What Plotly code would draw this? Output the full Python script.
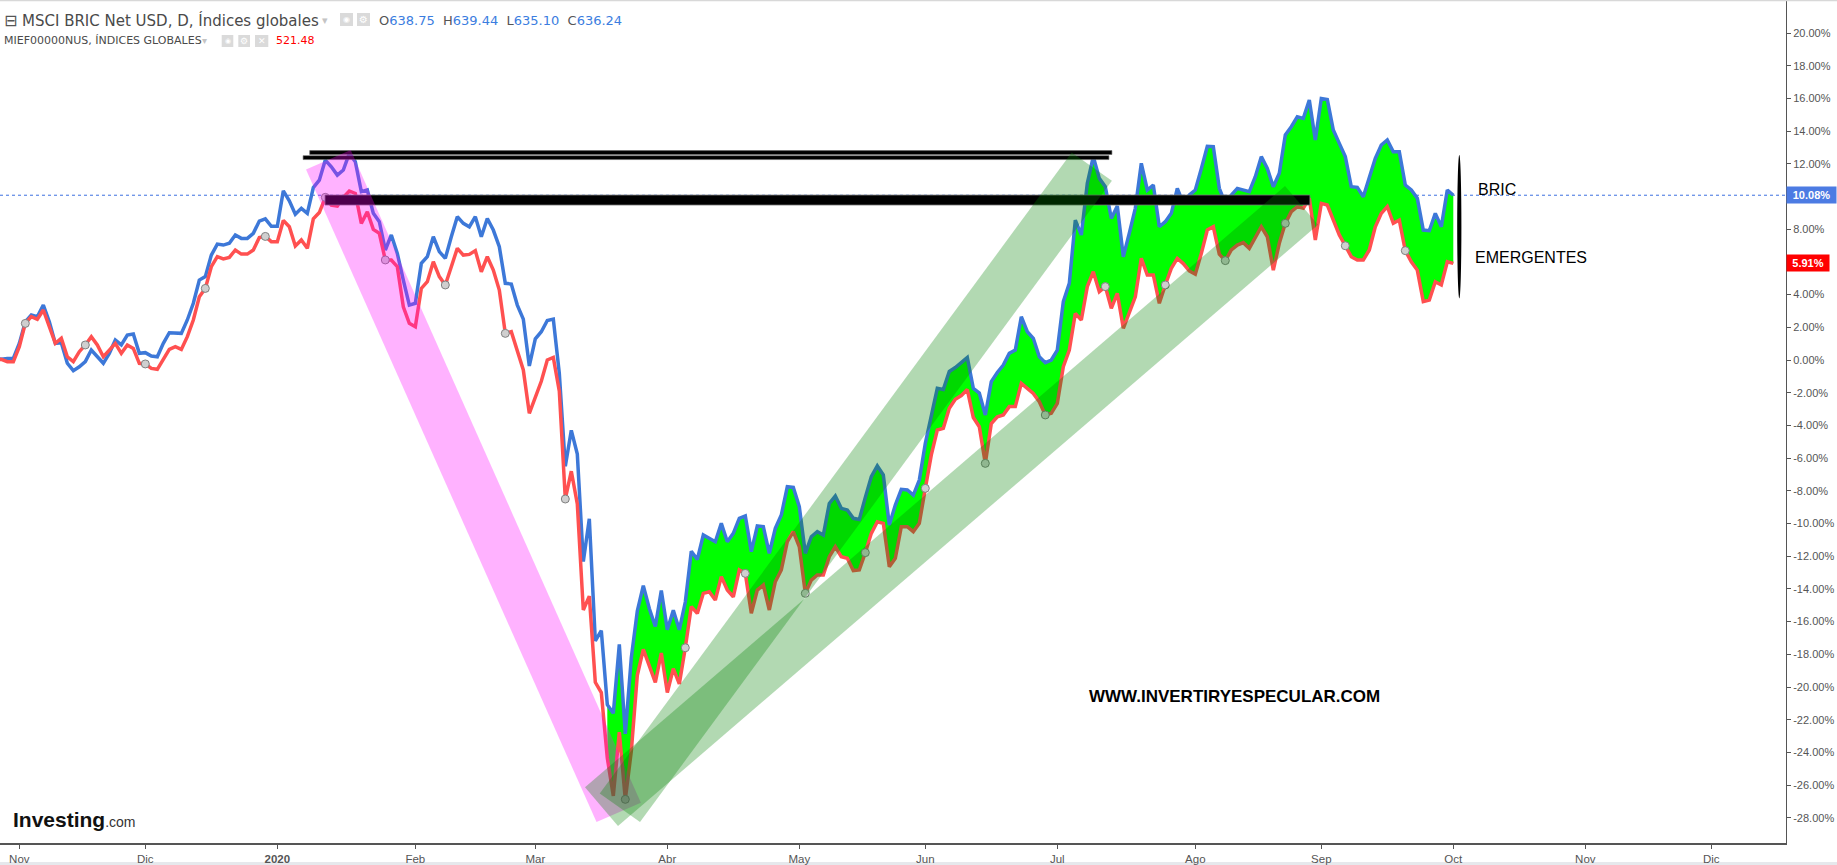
import numpy as np
import pandas as pd
import plotly.graph_objects as go

# ---------------- data ----------------
dates = pd.bdate_range("2019-10-28", "2020-10-01")  # trading days shown (weekdays)

bric = [
    0.10, 0.05, 0.10, 0.10,
    1.02, 2.34, 2.75, 2.65, 3.36, 2.34, 1.02, 1.06, -0.20, -0.65,
    -0.41, -0.10, 0.61, 0.20, -0.20, 0.41, 1.22, 0.92, 1.53, 1.59,
    0.41, 0.45, 0.24, 0.20, 1.02, 1.67, 1.67, 1.63, 2.45, 3.47,
    4.89, 5.10, 6.42, 7.09, 7.03, 7.14, 7.65, 7.44, 7.44, 7.75,
    8.50, 8.63, 8.18, 8.18, 10.35, 9.74, 8.92, 9.28, 8.97, 10.55,
    11.00, 12.23, 11.82, 11.31, 11.62, 12.64, 12.13, 10.30, 10.40, 8.97,
    8.46, 6.73, 7.65, 6.52, 4.89, 3.36, 3.47, 5.91, 6.32, 7.54,
    6.63, 6.22, 7.54, 8.77, 8.36, 8.15, 8.77, 7.54, 8.66, 7.95,
    6.93, 4.69, 4.65, 3.36, 2.50, -0.36, 1.30, 1.73, 2.42, 2.50,
    -0.82, -6.50, -4.30, -5.75, -12.33, -9.71, -17.18, -16.55, -21.08, -21.61,
    -17.39, -22.87, -18.20, -15.35, -13.80, -15.20, -16.30, -14.10, -16.50, -15.30,
    -16.50, -14.80, -11.70, -12.20, -10.70, -10.91, -11.11, -9.99, -11.11, -10.60,
    -9.68, -9.54, -11.72, -10.15, -10.19, -11.82, -10.30, -9.48, -7.75, -7.79,
    -8.97, -11.82, -10.81, -10.50, -10.70, -8.77, -8.32, -9.07, -9.17, -9.68,
    -9.75, -8.40, -7.14, -6.48, -7.03, -10.09, -8.87, -7.91, -7.95, -8.26,
    -7.34, -5.10, -3.50, -1.73, -1.80, -0.70, -0.46, -0.18, 0.15, -1.73,
    -2.02, -3.36, -1.32, -0.76, -0.31, 0.41, 0.61, 2.65, 1.73, 1.33,
    0.20, -0.16, 0.00, 0.61, 3.57, 4.69, 8.56, 7.65, 10.81, 12.44,
    11.11, 10.60, 8.66, 9.42, 6.32, 7.75, 9.28, 12.03, 10.40, 10.70,
    8.15, 8.46, 8.97, 10.50, 9.58, 10.09, 10.40, 11.70, 13.07, 13.05,
    10.50, 9.58, 10.09, 10.50, 10.40, 10.30, 11.21, 12.44, 11.72, 10.60,
    11.42, 13.76, 14.27, 14.88, 14.78, 15.90, 13.46, 16.00, 15.94, 14.07,
    13.25, 12.44, 10.60, 10.56, 9.99, 11.21, 12.33, 13.15, 13.46, 12.74,
    12.74, 10.70, 10.40, 9.89, 7.95, 7.91, 8.97, 8.15, 10.40, 10.08,
]

emergentes = [
    0.00, 0.04, -0.10, -0.10,
    0.82, 2.24, 2.65, 2.49, 3.06, 2.04, 1.02, 1.33, 0.20, -0.10,
    0.51, 0.92, 1.43, 0.92, 0.20, 0.61, 1.02, 0.41, 0.92, 0.71,
    -0.20, -0.24, -0.51, -0.57, 0.00, 0.65, 0.82, 0.65, 1.43, 2.45,
    3.87, 4.38, 5.71, 6.32, 6.18, 6.28, 6.73, 6.48, 6.48, 6.73,
    7.49, 7.56, 7.24, 7.24, 8.54, 8.15, 6.97, 7.34, 6.83, 8.63,
    9.02, 9.95, 9.48, 9.42, 9.95, 10.34, 10.19, 8.36, 9.07, 7.99,
    7.75, 6.12, 6.12, 5.71, 3.26, 2.24, 2.04, 4.38, 4.79, 6.01,
    5.10, 4.59, 5.71, 6.83, 6.42, 6.46, 6.69, 5.40, 6.32, 5.50,
    4.28, 1.63, 1.73, 0.61, -0.61, -3.26, -2.20, -1.30, 0.00, 0.16,
    -1.90, -8.50, -6.80, -8.80, -15.29, -14.44, -19.71, -20.34, -24.34, -26.66,
    -22.76, -26.87, -23.92, -19.28, -17.70, -18.65, -19.71, -17.92, -20.34, -18.87,
    -19.81, -17.60, -15.08, -15.50, -14.27, -14.17, -14.68, -13.25, -14.07, -14.48,
    -12.84, -13.05, -15.49, -14.07, -13.76, -15.29, -13.56, -12.84, -11.11, -10.50,
    -11.42, -14.27, -13.46, -13.15, -13.15, -12.03, -11.42, -12.03, -12.13, -12.88,
    -12.84, -11.78, -10.60, -9.89, -9.99, -12.64, -12.13, -10.19, -10.19, -10.50,
    -9.99, -7.85, -5.80, -4.28, -4.18, -2.95, -2.40, -2.17, -1.81, -3.52,
    -4.08, -6.32, -3.88, -3.47, -3.36, -2.85, -2.85, -1.43, -1.73, -2.04,
    -2.55, -3.36, -3.26, -2.65, -0.41, 0.61, 2.85, 2.45, 4.49, 5.40,
    4.18, 4.49, 3.16, 4.08, 1.94, 2.85, 3.87, 6.22, 5.20, 5.20,
    3.47, 4.59, 5.61, 6.22, 5.90, 5.45, 5.25, 6.52, 7.95, 8.15,
    6.47, 6.08, 6.73, 7.03, 7.18, 6.83, 7.54, 8.15, 7.54, 5.50,
    7.14, 8.36, 9.07, 9.38, 9.28, 9.89, 7.34, 9.58, 9.48, 8.56,
    7.65, 6.99, 6.32, 6.12, 6.12, 6.73, 8.15, 8.97, 9.38, 8.36,
    8.56, 6.69, 6.01, 5.50, 3.57, 3.67, 4.79, 4.59, 6.01, 5.91,
]

month_dates = ["2019-11-01", "2019-12-02", "2020-01-01", "2020-02-03", "2020-03-02",
               "2020-04-01", "2020-05-01", "2020-06-01", "2020-07-01", "2020-08-03",
               "2020-09-01", "2020-10-01", "2020-11-02", "2020-12-01"]
month_labels = ["Nov", "Dic", "<b>2020</b>", "Feb", "Mar", "Abr", "May", "Jun",
                "Jul", "Ago", "Sep", "Oct", "Nov", "Dic"]
y_tick_values = [v for v in range(-28, 21, 2) if v not in (6, 10)]
last_bric = 10.08
last_emergentes = 5.91
fill_start_date = "2020-03-18"
marker_step = 10

# ---------------- helpers ----------------
ORIGIN = np.datetime64("2019-11-01")


def pos(d):
    """trading-day position (weekdays only, like the TradingView time scale)"""
    return int(np.busday_count(ORIGIN, np.datetime64(pd.Timestamp(d).date())))


x = [pos(d) for d in dates]
xticks = [pos(d) for d in month_dates]
fill_from = pos(fill_start_date)

W, H = 1837, 865
PW, PH = 1786, 843          # plot area in pixels
X_RANGE = [-3.22, 294.45]
Y_RANGE = [-29.54, 22.02]


def fx(px):
    return px / PW


def fy(py):
    return 1 - py / PH


BLUE = "#3d78d8"
RED = "#ff5050"

fig = go.Figure()

# green fill between the series (from mid-March on)
xi = [xv for xv in x if xv >= fill_from]
red_part = [v for xv, v in zip(x, emergentes) if xv >= fill_from]
blue_part = [v for xv, v in zip(x, bric) if xv >= fill_from]
fig.add_trace(go.Scatter(x=xi, y=red_part, mode="lines", line=dict(width=0),
                         hoverinfo="skip", showlegend=False))
fig.add_trace(go.Scatter(x=xi, y=blue_part, mode="lines", line=dict(width=0),
                         fill="tonexty", fillcolor="#00ff00",
                         hoverinfo="skip", showlegend=False))

fig.add_trace(go.Scatter(x=x, y=bric, mode="lines", name="BRIC",
                         line=dict(color=BLUE, width=3.5), showlegend=False))
fig.add_trace(go.Scatter(x=x, y=emergentes, mode="lines", name="EMERGENTES",
                         line=dict(color=RED, width=3.5), showlegend=False))

mk_x = [xv for xv in x if xv % marker_step == 1 and xv >= 0]
mk_y = [v for xv, v in zip(x, emergentes) if xv % marker_step == 1 and xv >= 0]
fig.add_trace(go.Scatter(x=mk_x, y=mk_y, mode="markers", showlegend=False,
                         marker=dict(size=8, color="#cfcfcf",
                                     line=dict(color="#808080", width=1))))

# ---------------- drawings (in trading-day index / percent) ----------------
shapes = []
shapes.append(dict(type="line", xref="x", yref="y", x0=X_RANGE[0], x1=X_RANGE[1],
                   y0=last_bric, y1=last_bric, layer="below",
                   line=dict(color="#3c6fe0", width=1, dash="dot")))
shapes.append(dict(type="rect", xref="x", yref="y", x0=48.4, x1=182.1, y0=12.57, y1=12.81,
                   fillcolor="black", line=dict(color="#666", width=0.6), layer="above"))
shapes.append(dict(type="rect", xref="x", yref="y", x0=47.3, x1=181.6, y0=12.26, y1=12.50,
                   fillcolor="black", line=dict(color="#666", width=0.6), layer="above"))
shapes.append(dict(type="rect", xref="x", yref="y", x0=50.95, x1=215.1, y0=9.48, y1=10.09,
                   fillcolor="black", line=dict(color="#777", width=0.8), layer="above"))
shapes.append(dict(type="circle", xref="x", yref="y", x0=239.65, x1=240.35, y0=3.77, y1=12.54,
                   fillcolor="black", line=dict(width=0), layer="above"))


def poly(pts):
    return "M " + " L ".join(f"{a},{b}" for a, b in pts) + " Z"


pink_band = [(47.78, 11.66), (55.23, 12.84), (103.6, -27.08), (96.2, -28.26)]
green_band_1 = [(175.4, 12.70), (182.1, 10.97), (103.45, -28.26), (96.73, -26.52)]
green_band_2 = [(210.95, 10.64), (216.45, 8.27), (99.78, -28.50), (94.28, -26.13)]
shapes.append(dict(type="path", xref="x", yref="y", path=poly(pink_band),
                   fillcolor="rgba(255,0,255,0.30)", line=dict(width=0), layer="above"))
shapes.append(dict(type="path", xref="x", yref="y", path=poly(green_band_1),
                   fillcolor="rgba(0,128,0,0.30)", line=dict(width=0), layer="above"))
shapes.append(dict(type="path", xref="x", yref="y", path=poly(green_band_2),
                   fillcolor="rgba(0,128,0,0.30)", line=dict(width=0), layer="above"))

for (a, b, c, d) in [(340, 353, 13, 26), (357, 370, 13, 26),
                     (221.7, 233.3, 35, 47), (238.3, 250, 35, 47), (255, 268.3, 35, 47)]:
    shapes.append(dict(type="rect", xref="paper", yref="paper", x0=fx(a), x1=fx(b),
                       y0=fy(d), y1=fy(c), fillcolor="#dadada", line=dict(width=0)))
shapes.append(dict(type="line", xref="paper", yref="paper", x0=0, x1=W / PW, y0=fy(0.5), y1=fy(0.5),
                   line=dict(color="#d8d8d8", width=1.5)))
shapes.append(dict(type="rect", xref="paper", yref="paper", x0=0, x1=W / PW, y0=fy(866), y1=fy(862),
                   fillcolor="#e6e8ec", line=dict(width=0), layer="below"))

# ---------------- text ----------------
ann = []
HF = "DejaVu Sans"


def txt(px, py, text, size, color, family=HF, xanchor="left"):
    ann.append(dict(xref="paper", yref="paper", x=fx(px), y=fy(py), text=text, showarrow=False,
                    xanchor=xanchor, yanchor="middle", font=dict(family=family, size=size, color=color)))


txt(2, 20.5, "⊟", 16, "#555")
txt(20, 20.5, "MSCI BRIC Net USD, D, Índices globales", 15, "#4a4a4a")
txt(320, 20.5, "▾", 11, "#c4c4c4")
txt(346.5, 19.5, "◉", 8, "white", xanchor="center")
txt(363.5, 19.5, "⚙", 10, "white", xanchor="center")
vb = "color:#3b7de0"
txt(377, 20.5, f"O<span style='{vb}'>638.75</span>&nbsp;&nbsp;H<span style='{vb}'>639.44</span>"
               f"&nbsp;&nbsp;L<span style='{vb}'>635.10</span>&nbsp;&nbsp;C<span style='{vb}'>636.24</span>",
    13, "#555")
txt(2, 40.7, "MIEF00000NUS, ÍNDICES GLOBALES", 11, "#4a4a4a")
txt(200, 40.7, "▾", 10, "#c4c4c4")
txt(227.5, 41, "◉", 7, "white", xanchor="center")
txt(244.2, 41, "⚙", 9, "white", xanchor="center")
txt(261.6, 41, "✕", 9, "white", xanchor="center")
txt(274, 40.7, "521.48", 11, "#ff0000")

# Investing.com logo
txt(11, 819, "<b>Investing</b><span style='font-size:14px;color:#333'>.com</span>", 21, "#111",
    family="Liberation Sans, Arial")

ann.append(dict(xref="x", yref="y", x=242.8, y=10.40, text="BRIC", showarrow=False,
                xanchor="left", yanchor="middle",
                font=dict(family="Liberation Sans, Arial", size=16, color="black")))
ann.append(dict(xref="x", yref="y", x=242.2, y=6.28, text="EMERGENTES", showarrow=False,
                xanchor="left", yanchor="middle",
                font=dict(family="Liberation Sans, Arial", size=16, color="black")))
ann.append(dict(xref="x", yref="y", x=202.6, y=-20.55, text="<b>WWW.INVERTIRYESPECULAR.COM</b>",
                showarrow=False, xanchor="center", yanchor="middle",
                font=dict(family="Liberation Sans, Arial", size=17, color="black")))

ann.append(dict(xref="paper", yref="y", x=1, y=last_bric, text=f"<b>{last_bric:.2f}%</b>",
                showarrow=False, xanchor="left", yanchor="middle", width=45, borderpad=2,
                bgcolor="#4c7be3", font=dict(family="Liberation Sans, Arial", size=11, color="white")))
ann.append(dict(xref="paper", yref="y", x=1, y=last_emergentes, text=f"<b>{last_emergentes:.2f}%</b>",
                showarrow=False, xanchor="left", yanchor="middle", width=38, borderpad=2,
                bgcolor="#ff0000", font=dict(family="Liberation Sans, Arial", size=11, color="white")))

fig.update_layout(
    width=W, height=H,
    margin=dict(l=0, r=W - PW, t=0, b=H - PH, pad=0),
    paper_bgcolor="white", plot_bgcolor="white",
    showlegend=False,
    shapes=shapes, annotations=ann,
    xaxis=dict(range=X_RANGE, tickmode="array", tickvals=xticks, ticktext=month_labels,
               showgrid=False, zeroline=False, showline=True, linecolor="#555", linewidth=2,
               ticks="outside", ticklen=4, tickcolor="#555", automargin=False,
               tickfont=dict(family="Liberation Sans, Arial", size=11.5, color="#555")),
    yaxis=dict(range=Y_RANGE, side="right", tickmode="array", tickvals=y_tick_values,
               ticktext=[f"{v:.2f}%" for v in y_tick_values],
               showgrid=False, zeroline=False, showline=True, linecolor="#555", linewidth=1,
               ticks="outside", ticklen=4, tickcolor="#555", automargin=False,
               tickfont=dict(family="Liberation Sans, Arial", size=11, color="#555")),
)

fig.write_html(
    "out.html",
    config={"displayModeBar": False},
    post_script="document.body.style.margin='0';document.body.style.overflow='hidden';",
)
